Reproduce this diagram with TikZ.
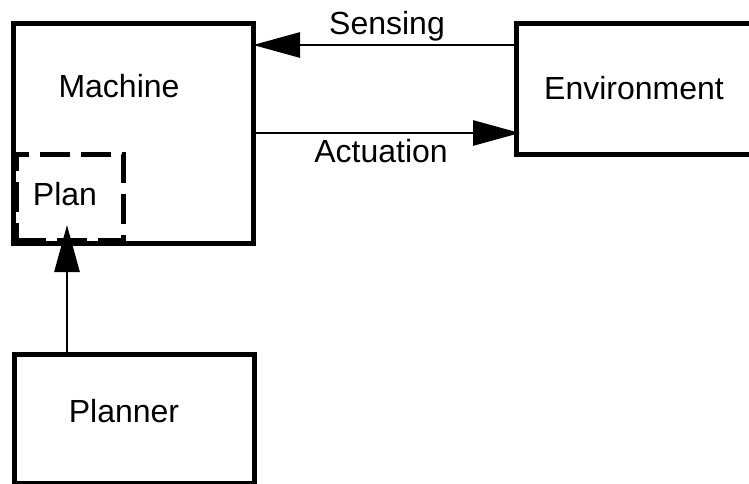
\documentclass[tikz,border=0pt]{standalone}
\usepackage{fontspec}
\setmainfont{Liberation Sans}
\usetikzlibrary{arrows.meta}
\begin{document}
\begin{tikzpicture}[x=1pt,y=-1pt,
  box/.style={draw=black, rectangle, line width=5pt, inner sep=0pt, outer sep=0pt},
  planbox/.style={box, dash pattern=on 30pt off 11pt},
  lbl/.style={anchor=base, inner sep=0pt, font=\fontsize{32}{38}\selectfont},
  conn/.style={draw=black, line width=2.8pt,
    -{Triangle[length=47pt,width=25pt]}}
]
  % page frame
  \useasboundingbox (0,0) rectangle (749,484);
  \fill[white] (0,0) rectangle (749,484);
  \clip (0,0) rectangle (749,484);

  % boxes
  \node[box, minimum width=240pt, minimum height=219pt] (machine) at (133,133.5) {};
  \node[box, minimum width=250pt, minimum height=130pt] (env) at (641,89) {};
  \node[planbox, minimum width=107pt, minimum height=86pt] (plan) at (69.5,197) {};
  \node[box, minimum width=240pt, minimum height=129pt] (planner) at (134,418.5) {};

  % labels
  \node[lbl] (machineText) at (119,98) {Machine};
  \node[lbl] (envText) at (634,100) {Environment};
  \node[lbl] (planText) at (65,205) {Plan};
  \node[lbl] (plannerText) at (124,422) {Planner};
  \node[lbl] (sensText) at (387,35) {Sensing};
  \node[lbl] (actText) at (381,162) {Actuation};

  % connectors
  \coordinate (sensY) at (0,45);
  \coordinate (actY) at (0,133);
  \coordinate (actTip) at (520,133);
  \coordinate (planTip) at (67,225);
  \draw[conn] (env.west |- sensY) -- (machine.east |- sensY);
  \draw[conn] (machine.east |- actY) -- (actTip);
  \draw[conn] (planner.north -| planTip) -- (planTip);
\end{tikzpicture}
\end{document}
